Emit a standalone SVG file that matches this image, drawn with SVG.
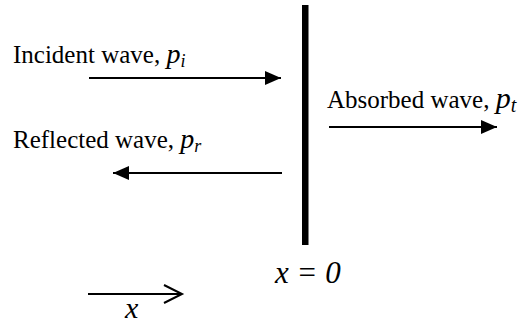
<svg xmlns="http://www.w3.org/2000/svg" width="531" height="325" viewBox="0 0 531 325">
<style>
.t{font-family:'Liberation Serif','Times New Roman',serif;fill:#000}
.lbl{font-size:25px}
.it{font-style:italic}
.conn{stroke:#000;stroke-width:2;fill:none}
</style>
<defs>
<marker id="ah" markerUnits="userSpaceOnUse" markerWidth="16" markerHeight="14" refX="16" refY="7" orient="auto">
<path d="M0,0 L16,7 L0,14 z" fill="#000"/>
</marker>
</defs>
<rect width="531" height="325" fill="#fff"/>
<g id="wall">
<rect x="302" y="5" width="6.5" height="240" fill="#000"/>
</g>
<g id="incident">
<text class="t lbl" x="13" y="63">Incident wave, <tspan class="it" font-size="28">p</tspan><tspan class="it" font-size="18" dy="4">i</tspan></text>
</g>
<g id="reflected">
<text class="t lbl" x="13" y="148">Reflected wave, <tspan class="it" font-size="28">p</tspan><tspan class="it" font-size="18" dy="4">r</tspan></text>
</g>
<g id="absorbed">
<text class="t lbl" x="327" y="108">Absorbed wave, <tspan class="it" font-size="30">p</tspan><tspan class="it" font-size="20" dy="4">t</tspan></text>
</g>
<g id="origin">
<text class="t it" x="275" y="283" font-size="31">x = 0</text>
</g>
<g id="axis">
<text class="t it" x="125" y="318" font-size="30">x</text>
</g>
<g id="connectors">
<line class="conn" x1="89" y1="78" x2="281" y2="78" marker-end="url(#ah)"/>
<line class="conn" x1="282" y1="173" x2="113" y2="173" marker-end="url(#ah)"/>
<line class="conn" x1="329" y1="127" x2="497" y2="127" marker-end="url(#ah)"/>
<line class="conn" x1="88" y1="294" x2="181" y2="294"/>
<polyline class="conn" points="164,285 182,294 164,303"/>
</g>
</svg>
